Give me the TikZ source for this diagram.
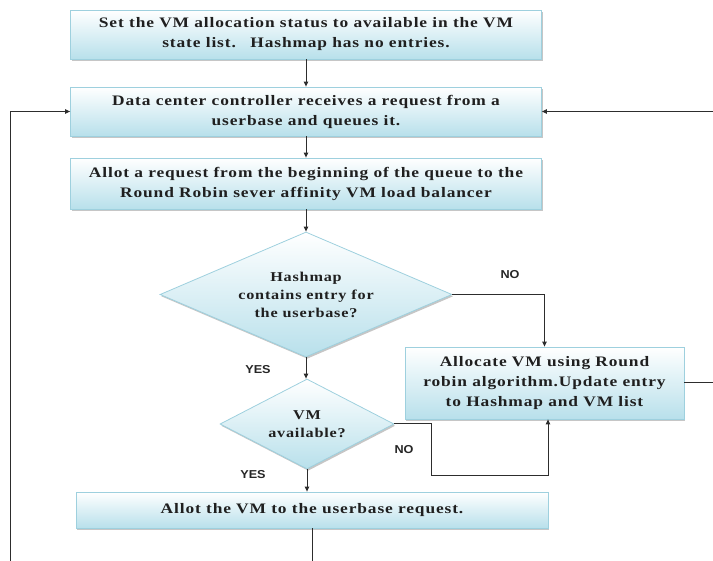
\documentclass[tikz,border=0pt]{standalone}
\usepackage{fontspec}
\setmainfont{Liberation Serif}[FakeStretch=1.2,LetterSpace=6]
\newfontfamily\labelfont{Liberation Sans}[FakeStretch=1.1]
\usetikzlibrary{shapes.geometric,arrows.meta,shadows}

\definecolor{boxblue}{RGB}{184,224,235}
\definecolor{boxedge}{RGB}{158,208,222}
\definecolor{linegray}{RGB}{45,45,45}

\begin{document}
\begin{tikzpicture}[x=1pt,y=-1pt,
    box/.style={rectangle, draw=boxedge, line width=0.8pt, top color=white, bottom color=boxblue,
        drop shadow={shadow xshift=1.2pt, shadow yshift=-1.8pt, fill=black!50, opacity=0.45},
        align=center, inner sep=0pt, text=black!88,
        font=\bfseries\fontsize{14.5}{20}\selectfont},
    decision/.style={box, diamond, aspect=2.3,
        font=\bfseries\fontsize{13.5}{18}\selectfont},
    arr/.style={draw=linegray, line width=1pt, -{Triangle[length=5pt,width=4.5pt]}},
    yesno/.style={font=\labelfont\bfseries\fontsize{11.5}{13}\selectfont, text=black!85}]

    \useasboundingbox (0,0) rectangle (713,561);
    \clip (0,0) rectangle (713,561);

    \node[box, minimum width=471pt, minimum height=49pt] (set) at (306,34.5)
        {Set the VM allocation status to available in the VM\\state list.\quad Hashmap has no entries.};
    \node[box, minimum width=471pt, minimum height=49pt] (recv) at (306,111.5)
        {Data center controller receives a request from a\\userbase and queues it.};
    \node[box, minimum width=471pt, minimum height=51pt] (allot) at (306,183.5)
        {Allot a request from the beginning of the queue to the\\Round Robin sever affinity VM load balancer};
    \node[decision, minimum width=292pt, minimum height=125pt] (hash) at (306,294.5)
        {Hashmap\\contains entry for\\the userbase?};
    \node[decision, minimum width=174pt, minimum height=90pt] (vm) at (307,424)
        {VM\\available?};
    \node[box, minimum width=279pt, minimum height=72pt] (alloc) at (544.5,383)
        {Allocate VM using Round\\robin algorithm.Update entry\\to Hashmap and VM list};
    \node[box, minimum width=472pt, minimum height=36pt] (give) at (312,510)
        {Allot the VM to the userbase request.};

    \node[yesno] (no1) at (510,275) {NO};
    \node[yesno] (yes1) at (258,370) {YES};
    \node[yesno] (no2) at (404,450) {NO};
    \node[yesno] (yes2) at (253,475) {YES};

    \coordinate (nobend) at (431,476);
    \coordinate (back) at (10,600);
    \coordinate (ret) at (730,250);

    \draw[arr] (set) -- (recv);
    \draw[arr] (recv) -- (allot);
    \draw[arr] (allot) -- (hash);
    \draw[arr] (hash.south) -- (hash.south |- vm.north);
    \draw[arr] (vm.south) -- (vm.south |- give.north);
    \draw[arr] (hash.east) -| (alloc.north);
    \draw[arr] (vm.east) -| (nobend) -| ([xshift=3.5pt]alloc.south);
    \draw[arr] (give.south) |- (back) |- (recv.west);
    \draw[arr] (alloc.east) -| (ret) |- (recv.east);

\end{tikzpicture}
\end{document}
